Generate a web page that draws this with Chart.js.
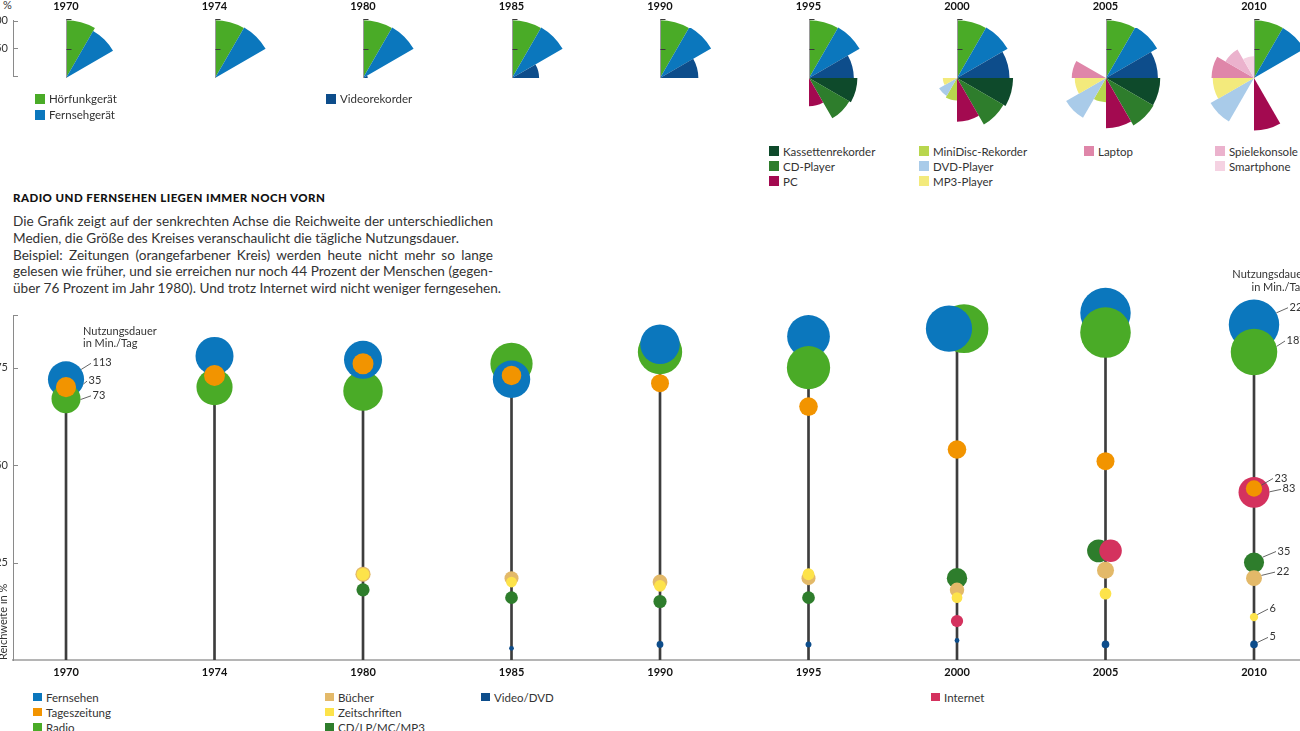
<!DOCTYPE html>
<html><head><meta charset="utf-8">
<script src="https://cdn.jsdelivr.net/npm/chart.js@4.4.1/dist/chart.umd.min.js"></script>
<style>
html,body{margin:0;padding:0;width:1300px;height:731px;overflow:hidden;background:#fff;font-family:Lato,'Open Sans',sans-serif;color:#333;}
canvas{position:absolute;}
.yr{position:absolute;top:0;font-weight:bold;font-size:11px;line-height:12px;transform:translateX(-50%);color:#111;}
.lg{position:absolute;font-size:11.5px;white-space:nowrap;}
.lg div{position:relative;}
.lg span{position:absolute;left:0;}
#title{position:absolute;left:13px;top:191px;font-weight:900;font-size:11.5px;line-height:14px;letter-spacing:0.45px;color:#111;}
#para{position:absolute;left:13px;top:213px;font-size:13.6px;line-height:16.75px;color:#333;}
#para div{width:480px;white-space:nowrap;}
#para div.j{text-align:justify;text-align-last:justify;white-space:normal;}
#pct{position:absolute;left:3px;top:-2px;font-size:11px;color:#333;}
</style></head><body>
<div id="pct">%</div>
<div id="title">RADIO UND FERNSEHEN LIEGEN IMMER NOCH VORN</div>
<div id="para">
<div class="j">Die Grafik zeigt auf der senkrechten Achse die Reichweite der unterschiedlichen</div>
<div>Medien, die Größe des Kreises veranschaulicht die tägliche Nutzungsdauer.</div>
<div class="j">Beispiel: Zeitungen (orangefarbener Kreis) werden heute nicht mehr so lange</div>
<div class="j">gelesen wie früher, und sie erreichen nur noch 44 Prozent der Menschen (gegen-</div>
<div>über 76 Prozent im Jahr 1980). Und trotz Internet wird nicht weniger ferngesehen.</div>
</div>
<canvas id="main" width="1390" height="435" style="left:-27px;top:255px;width:1390px;height:435px"></canvas>
<canvas id="topaxis" width="60" height="79" style="left:-27px;top:9px;width:60px;height:79px"></canvas>
<script>
// ---------- DATA ----------
const years = ['1970','1974','1980','1985','1990','1995','2000','2005','2010'];

// Reichweite in % (main chart)
const reachFernsehen     = [72, 78, 77, 72, 81, 83, 85, 89, 86];
const reachRadio         = [67, 70, 69, 76, 79, 75, 85, 84, 79];
const reachTageszeitung  = [70, 73, 76, 73, 71, 65, 54, 51, 44];
const reachBuecher       = [null, null, 22, 21, 20, 21, 18, 23, 21];
const reachZeitschriften = [null, null, 22, 20, 19, 22, 16, 17, 11];
const reachTontraeger    = [null, null, 18, 16, 15, 16, 21, 28, 25];
const reachVideo         = [null, null, null, 3, 4, 4, 5, 4, 4];
const reachInternet      = [null, null, null, null, null, null, 10, 28, 43];

// Nutzungsdauer in Min./Tag (circle size)
const minFernsehen     = [113, 125, 125, 121, 135, 158, 185, 220, 220];
const minRadio         = [73, 113, 135, 154, 170, 162, 206, 221, 187];
const minTageszeitung  = [35, 38, 38, 33, 28, 30, 30, 28, 23];
const minBuecher       = [null, null, 20, 17, 19, 17, 18, 25, 22];
const minZeitschriften = [null, null, 14, 10, 12, 12, 10, 12, 6];
const minTontraeger    = [null, null, 15, 14, 15, 14, 36, 45, 35];
const minVideo         = [null, null, null, 2, 4, 3, 2, 5, 5];
const minInternet      = [null, null, null, null, null, null, 13, 44, 83];

// Geräteausstattung in % (top rose charts), 12 sectors of 30°
const devHoerfunk   = [98, 98, 98, 98, 98, 98, 98, 98, 98];
const devFernseh    = [92, 99, 99, 99, 100, 99, 99, 100, 98];
const devVideo      = [0, 0, 8, 46, 65, 76, 89, 88, 0];
const devKassette   = [0, 0, 0, 0, 0, 82, 95, 92, 0];
const devCD         = [0, 0, 0, 0, 0, 79, 91, 93, 0];
const devPC         = [0, 0, 0, 0, 0, 48, 74, 85, 89];
const devMiniDisc   = [0, 0, 0, 0, 0, 0, 38, 41, 0];
const devDVD        = [0, 0, 0, 0, 0, 0, 35, 78, 85];
const devMP3        = [0, 0, 0, 0, 0, 0, 24, 53, 70];
const devLaptop     = [0, 0, 0, 0, 0, 0, 0, 58, 72];
const devKonsole    = [0, 0, 0, 0, 0, 0, 0, 0, 56];
const devSmartphone = [0, 0, 0, 0, 0, 0, 0, 0, 37];

// ---------- STYLE ----------
const colors = {
  'Hörfunkgerät':'#4aab27','Fernsehgerät':'#0b77bd','Videorekorder':'#0d4d8b',
  'Kassettenrekorder':'#0e4a2b','CD-Player':'#2e7d2c','PC':'#a30a50',
  'MiniDisc-Rekorder':'#b8d64e','DVD-Player':'#a9cbe9','MP3-Player':'#f3ea7c',
  'Laptop':'#df86a9','Spielekonsole':'#ebb2cd','Smartphone':'#f5d2e2',
  'Fernsehen':'#0b77bd','Tageszeitung':'#f29400','Radio':'#4aab27',
  'Bücher':'#e3b969','Zeitschriften':'#fde34a','CD/LP/MC/MP3':'#2e7d2c',
  'Video/DVD':'#0d4d8b','Internet':'#d4325e'
};
const FONT = "Lato,'Open Sans',sans-serif";
Chart.defaults.font.family = FONT;
Chart.defaults.color = '#333';

const canvasLeft = -27;
const rad = m => (m == null ? 0 : 1.7 * Math.sqrt(m));
// small sideways shifts where two circles share the same height
const nudge = { Fernsehen:{6:-0.054}, Radio:{6:0.047}, Tontraeger:{7:-0.047}, Internet:{7:0.034} };
const tvFront = i => minFernsehen[i] < minRadio[i] - 5;

function pts(reach, mins, key, keep) {
  return years.map((_, i) => ({
    x: i + ((nudge[key] && nudge[key][i]) || 0),
    y: (keep && !keep(i)) ? null : reach[i],
    r: rad(mins[i])
  }));
}
function bub(label, data, color, order) {
  return {type:'bubble', label, data, backgroundColor:color, borderWidth:0, hoverBorderWidth:0, order, clip:false};
}
const allReach = [reachFernsehen, reachRadio, reachTageszeitung, reachBuecher, reachZeitschriften, reachTontraeger, reachVideo, reachInternet];
const stems = years.map((_, i) => ({x:i, y:[0, Math.max(...allReach.map(a => a[i] == null ? 0 : a[i]))]}));

const datasets = [
  bub('Video/DVD', pts(reachVideo, minVideo, 'Video'), colors['Video/DVD'], 1),
  bub('Zeitschriften', pts(reachZeitschriften, minZeitschriften, 'Zeitschriften'), colors['Zeitschriften'], 2),
  bub('Bücher', pts(reachBuecher, minBuecher, 'Buecher'), colors['Bücher'], 3),
  bub('Tageszeitung', pts(reachTageszeitung, minTageszeitung, 'Tageszeitung'), colors['Tageszeitung'], 4),
  bub('Internet', pts(reachInternet, minInternet, 'Internet'), colors['Internet'], 5),
  bub('CD/LP/MC/MP3', pts(reachTontraeger, minTontraeger, 'Tontraeger'), colors['CD/LP/MC/MP3'], 6),
  bub('FernsehenVorn', pts(reachFernsehen, minFernsehen, 'Fernsehen', tvFront), colors['Fernsehen'], 7),
  bub('Radio', pts(reachRadio, minRadio, 'Radio'), colors['Radio'], 8),
  bub('Fernsehen', pts(reachFernsehen, minFernsehen, 'Fernsehen', i => !tvFront(i)), colors['Fernsehen'], 9),
  {type:'bar', label:'stems', data:stems, backgroundColor:'#3d3d3d', borderWidth:0, barThickness:2, order:10, grouped:false}
];

// value labels (minutes) with leader lines
const valueLabels = [
  {ds:'Fernsehen', i:0, v:minFernsehen[0], a:33, dx:25, dy:16},
  {ds:'Tageszeitung', i:0, v:minTageszeitung[0], a:10, r0:17.6, dx:21, dy:6},
  {ds:'Radio', i:0, v:minRadio[0], a:-3, dx:25, dy:3},
  {ds:'Fernsehen', i:8, v:minFernsehen[8], a:28, dx:34, dy:17},
  {ds:'Radio', i:8, v:minRadio[8], a:14, dx:31, dy:11},
  {ds:'Tageszeitung', i:8, v:minTageszeitung[8], a:24, dx:19, dy:10},
  {ds:'Internet', i:8, v:minInternet[8], a:2, dx:27, dy:3},
  {ds:'CD/LP/MC/MP3', i:8, v:minTontraeger[8], a:32, dx:22, dy:11},
  {ds:'Bücher', i:8, v:minBuecher[8], a:20, dx:21, dy:6},
  {ds:'Zeitschriften', i:8, v:minZeitschriften[8], a:37, dx:14, dy:8},
  {ds:'Video/DVD', i:8, v:minVideo[8], a:30, dx:14, dy:7}
];

const inwardTicks = {
  id:'inwardTicks',
  afterDraw(chart, args, opts) {
    const s = chart.scales.y, ctx = chart.ctx, L = chart.chartArea.left;
    ctx.save(); ctx.strokeStyle = opts.color || '#8a8a8a'; ctx.lineWidth = 1;
    (opts.values || []).forEach(v => {
      const py = Math.round(s.getPixelForValue(v)) + 0.5;
      ctx.beginPath(); ctx.moveTo(L, py); ctx.lineTo(L + (opts.len || 5), py); ctx.stroke();
    });
    ctx.restore();
  }
};

const annot = {
  id:'annot',
  afterDatasetsDraw(chart) {
    const ctx = chart.ctx;
    ctx.save();
    ctx.font = "11px " + FONT; ctx.fillStyle = '#333'; ctx.textBaseline = 'middle';
    valueLabels.forEach(l => {
      let idx = chart.data.datasets.findIndex(d => d.label === l.ds && d.data[l.i] && d.data[l.i].y != null);
      if (idx < 0 && l.ds === 'Fernsehen') idx = chart.data.datasets.findIndex(d => d.label === 'FernsehenVorn' && d.data[l.i].y != null);
      if (idx < 0) return;
      const el = chart.getDatasetMeta(idx).data[l.i];
      const r = l.r0 != null ? l.r0 : el.options.radius;
      const ang = l.a * Math.PI / 180;
      const x0 = el.x + r * Math.cos(ang), y0 = el.y - r * Math.sin(ang);
      const x1 = el.x + l.dx, y1 = el.y - l.dy;
      ctx.strokeStyle = '#555'; ctx.lineWidth = 0.9;
      ctx.beginPath(); ctx.moveTo(x0, y0); ctx.lineTo(x1, y1); ctx.stroke();
      ctx.fillText(String(l.v), x1 + 1.5, y1 - 0.5);
    });
    const xs = chart.scales.x;
    const x0 = xs.getPixelForValue(0), x8 = xs.getPixelForValue(years.length - 1);
    ctx.textAlign = 'left';
    ctx.fillText('Nutzungsdauer', x0 + 17, 331 - 255);
    ctx.fillText('in Min./Tag', x0 + 17, 343 - 255);
    ctx.textAlign = 'right';
    ctx.fillText('Nutzungsdauer', x8 + 52, 274 - 255);
    ctx.fillText('in Min./Tag', x8 + 52, 287 - 255);
    ctx.restore();
  }
};

const main = new Chart(document.getElementById('main'), {
  type:'bubble',
  data:{datasets},
  options:{
    responsive:false, animation:false, events:[],
    layout:{autoPadding:false, padding:{top:60, right:0, bottom:0, left:0}},
    plugins:{legend:{display:false}, tooltip:{enabled:false},
      inwardTicks:{values:[25,50,75,88.5], len:5, color:'#8a8a8a'}},
    scales:{
      x:{type:'linear', min:-0.357, max:8.734, offset:false,
        afterFit:s => { s.height = 30; },
        afterBuildTicks:s => { s.ticks = years.map((_, i) => ({value:i})); },
        grid:{display:false, drawTicks:false},
        border:{display:true, color:'#b5b5b5', width:2},
        ticks:{padding:6, color:'#111', autoSkip:false, maxRotation:0, font:{size:11, weight:'bold'}, callback:v => years[v]}},
      y:{type:'linear', min:0, max:88.5, beginAtZero:true,
        afterFit:s => { s.width = 40; },
        afterBuildTicks:s => { s.ticks = [25,50,75].map(v => ({value:v})); },
        grid:{display:false, drawTicks:false},
        border:{display:true, color:'#8a8a8a', width:1},
        ticks:{padding:5, color:'#333', font:{size:11}},
        title:{display:true, text:'Reichweite in %', align:'start', color:'#333', font:{size:11}, padding:{top:24, bottom:0}}}
    }
  },
  plugins:[inwardTicks, annot]
});

// small axis for the top rose charts
new Chart(document.getElementById('topaxis'), {
  type:'scatter', data:{datasets:[]},
  options:{responsive:false, animation:false, events:[],
    layout:{autoPadding:false, padding:{top:10, bottom:10, left:0, right:0}},
    plugins:{legend:{display:false}, tooltip:{enabled:false}, inwardTicks:{values:[0,50,100], len:5, color:'#8a8a8a'}},
    scales:{
      x:{display:false},
      y:{min:0, max:100, afterFit:s => { s.width = 40; },
        afterBuildTicks:s => { s.ticks = [0,50,100].map(v => ({value:v})); },
        grid:{display:false, drawTicks:false},
        border:{display:true, color:'#8a8a8a', width:1},
        ticks:{padding:5, color:'#333', font:{size:11}, callback:v => v === 0 ? '' : v}}
    }},
  plugins:[inwardTicks]
});

// top rose charts
const sectorNames = ['Hörfunkgerät','Fernsehgerät','Videorekorder','Kassettenrekorder','CD-Player','PC','MiniDisc-Rekorder','DVD-Player','MP3-Player','Laptop','Spielekonsole','Smartphone'];
const sectorSeries = [devHoerfunk, devFernseh, devVideo, devKassette, devCD, devPC, devMiniDisc, devDVD, devMP3, devLaptop, devKonsole, devSmartphone];
const roseAxis = {
  id:'roseAxis',
  afterDatasetsDraw(chart) {
    const s = chart.scales.r, ctx = chart.ctx;
    const x = s.xCenter + 0.5, y = s.yCenter;
    const R = s.getDistanceFromCenterForValue(100), H = s.getDistanceFromCenterForValue(50);
    ctx.save();
    ctx.strokeStyle = '#9a9a9a'; ctx.lineWidth = 1;
    ctx.beginPath(); ctx.moveTo(x, y); ctx.lineTo(x, y - R); ctx.stroke();
    ctx.strokeStyle = '#3a3a3a';
    [R, H].forEach(d => { ctx.beginPath(); ctx.moveTo(x, Math.round(y - d) + 0.5); ctx.lineTo(x + 5, Math.round(y - d) + 0.5); ctx.stroke(); });
    ctx.restore();
  }
};
years.forEach((yr, i) => {
  const cx = canvasLeft + main.scales.x.getPixelForValue(i);
  const c = document.createElement('canvas');
  c.width = 118; c.height = 118;
  c.style.cssText = `left:${Math.round(cx - 59)}px;top:19px;width:118px;height:118px`;
  document.body.appendChild(c);
  new Chart(c, {
    type:'polarArea',
    data:{labels:sectorNames, datasets:[{data:sectorSeries.map(s => s[i]), backgroundColor:sectorNames.map(n => colors[n]), borderWidth:0}]},
    options:{responsive:false, animation:false, events:[], layout:{autoPadding:false, padding:0},
      plugins:{legend:{display:false}, tooltip:{enabled:false}},
      scales:{r:{display:false, min:0, max:100}}},
    plugins:[roseAxis]
  });
  const lab = document.createElement('div');
  lab.className = 'yr'; lab.textContent = yr; lab.style.left = cx + 'px';
  document.body.appendChild(lab);
});

// legends
const legendGroups = [
  {left:35, top:91, lh:16, sq:9.5, names:['Hörfunkgerät','Fernsehgerät']},
  {left:326, top:91, lh:16, sq:9.5, names:['Videorekorder']},
  {left:769, top:143.5, lh:15, sq:9.5, names:['Kassettenrekorder','CD-Player','PC']},
  {left:919, top:143.5, lh:15, sq:9.5, names:['MiniDisc-Rekorder','DVD-Player','MP3-Player']},
  {left:1084, top:143.5, lh:15, sq:9.5, names:['Laptop']},
  {left:1215, top:143.5, lh:15, sq:9.5, names:['Spielekonsole','Smartphone']},
  {left:33, top:689.5, lh:15, sq:8.5, names:['Fernsehen','Tageszeitung','Radio']},
  {left:325, top:689.5, lh:15, sq:8.5, names:['Bücher','Zeitschriften','CD/LP/MC/MP3']},
  {left:481, top:689.5, lh:15, sq:8.5, names:['Video/DVD']},
  {left:931, top:689.5, lh:15, sq:8.5, names:['Internet']}
];
legendGroups.forEach(g => {
  const box = document.createElement('div');
  box.className = 'lg'; box.style.left = g.left + 'px'; box.style.top = g.top + 'px';
  g.names.forEach(n => {
    const row = document.createElement('div');
    row.style.height = g.lh + 'px'; row.style.lineHeight = g.lh + 'px'; row.style.paddingLeft = (g.sq + 4.5) + 'px';
    const sq = document.createElement('span');
    sq.style.cssText = `width:${g.sq}px;height:${g.sq}px;top:${(g.lh - g.sq) / 2}px;background:${colors[n]}`;
    row.appendChild(sq);
    row.appendChild(document.createTextNode(n));
    box.appendChild(row);
  });
  document.body.appendChild(box);
});
</script>
</body></html>
